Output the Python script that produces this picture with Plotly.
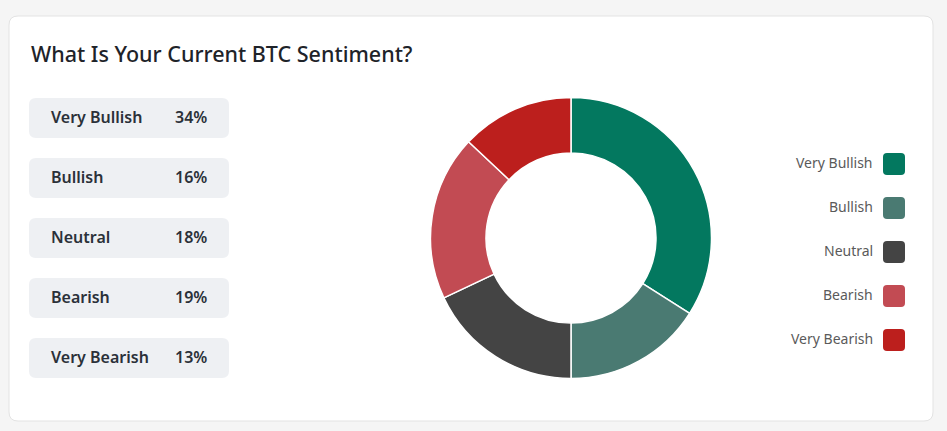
import plotly.graph_objects as go

categories = ["Very Bullish", "Bullish", "Neutral", "Bearish", "Very Bearish"]
values = [34, 16, 18, 19, 13]
colors = ["#03785f", "#4a7a72", "#444444", "#c24b53", "#bc1f1d"]
title_text = "What Is Your Current BTC Sentiment?"

W, H = 947, 431
FONT = "Noto Sans"


def rrect(x0, y0, x1, y1, r):
    return (f"M{x0+r},{y0} L{x1-r},{y0} Q{x1},{y0} {x1},{y0+r} "
            f"L{x1},{y1-r} Q{x1},{y1} {x1-r},{y1} L{x0+r},{y1} "
            f"Q{x0},{y1} {x0},{y1-r} L{x0},{y0+r} Q{x0},{y0} {x0+r},{y0} Z")


cx, cy, R = 571, 238, 140.5

fig = go.Figure()
fig.add_trace(go.Pie(
    labels=categories, values=values, sort=False, direction="clockwise",
    rotation=0, hole=0.605, textinfo="none", hoverinfo="label+percent",
    marker=dict(colors=colors, line=dict(color="white", width=1.5)),
    domain=dict(x=[(cx - R) / W, (cx + R) / W],
                y=[(H - cy - R) / H, (H - cy + R) / H]),
    showlegend=False,
))

shapes = [dict(type="path", path=rrect(9, 16, 933, 421, 9), xref="x", yref="y",
               fillcolor="white", line=dict(color="#e3e3e3", width=1), layer="below")]
annotations = [dict(text=title_text, x=29, y=53, xref="x", yref="y", xanchor="left",
                    yanchor="middle", showarrow=False,
                    font=dict(family=FONT, size=21.5, color="#1e2329", weight=500))]

for i, (cat, val, col) in enumerate(zip(categories, values, colors)):
    top = 98 + i * 60
    shapes.append(dict(type="path", path=rrect(29, top, 229, top + 40, 7), xref="x", yref="y",
                       fillcolor="#eef0f3", line=dict(width=0), layer="below"))
    annotations.append(dict(text=cat, x=49, y=top + 19, xref="x", yref="y", xanchor="left",
                            yanchor="middle", showarrow=False,
                            font=dict(family=FONT, size=16, color="#2b3139", weight=600)))
    annotations.append(dict(text=f"{val}%", x=209, y=top + 19, xref="x", yref="y",
                            xanchor="right", yanchor="middle", showarrow=False,
                            font=dict(family=FONT, size=16, color="#2b3139", weight=600)))
    ly = 164 + i * 44
    shapes.append(dict(type="path", path=rrect(883, ly - 11, 905, ly + 11, 4), xref="x", yref="y",
                       fillcolor=col, line=dict(width=0), layer="below"))
    annotations.append(dict(text=cat, x=875, y=ly - 1.5, xref="x", yref="y", xanchor="right",
                            yanchor="middle", showarrow=False,
                            font=dict(family=FONT, size=14, color="#5a5a5a")))

fig.update_layout(
    width=W, height=H, margin=dict(l=0, r=0, t=0, b=0),
    paper_bgcolor="#f5f5f5", plot_bgcolor="rgba(0,0,0,0)",
    xaxis=dict(range=[0, W], visible=False, fixedrange=True, domain=[0, 1]),
    yaxis=dict(range=[H, 0], visible=False, fixedrange=True, domain=[0, 1]),
    shapes=shapes, annotations=annotations, showlegend=False,
)

fig.write_html("out.html", config={"displayModeBar": False})
